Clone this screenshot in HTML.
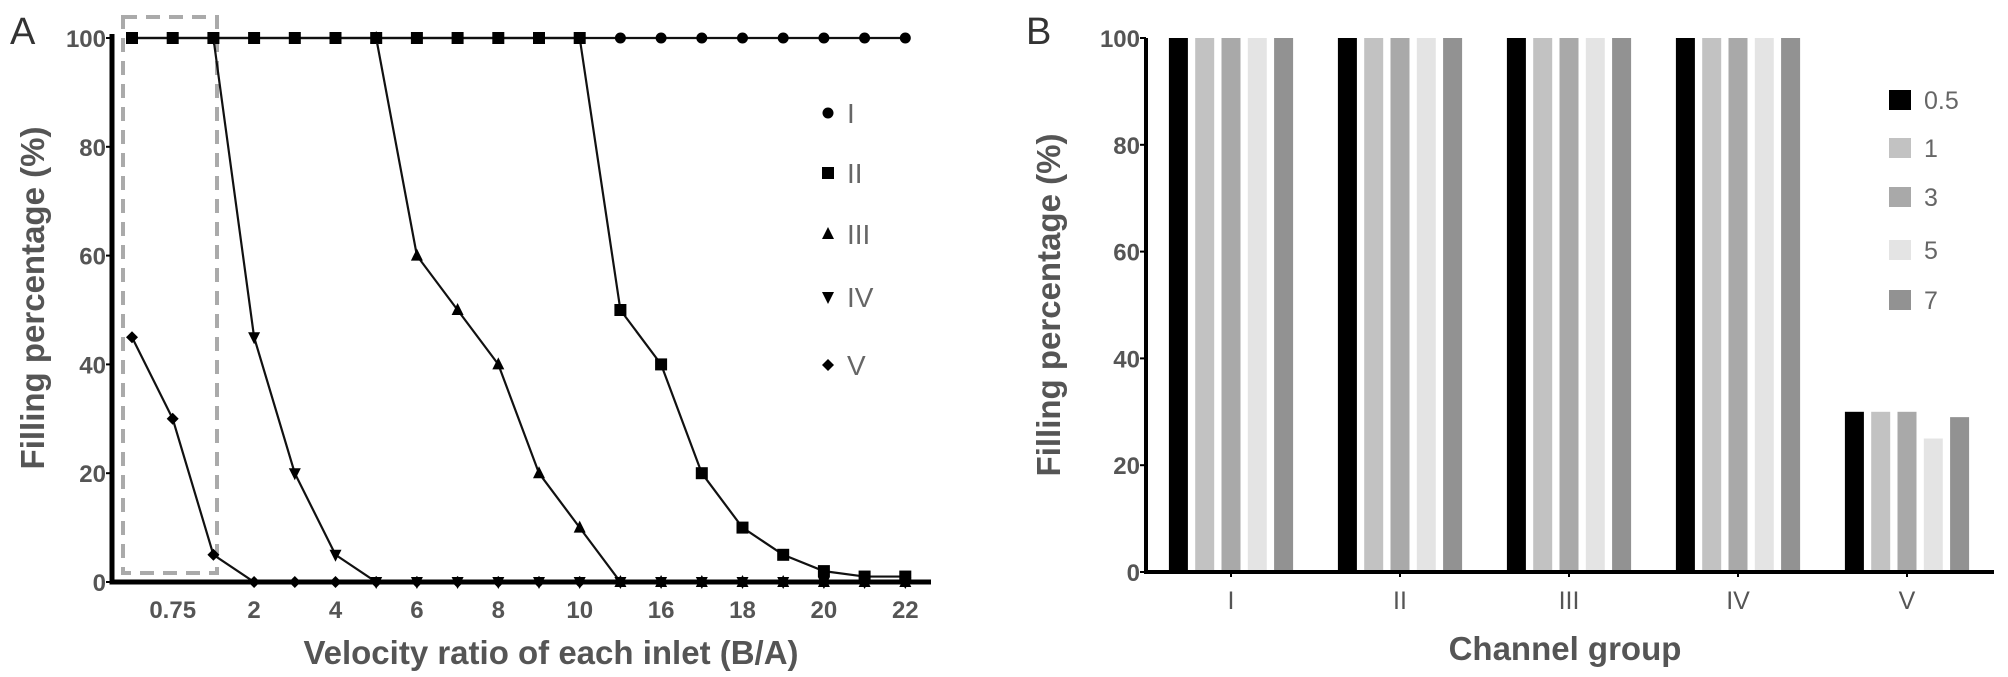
<!DOCTYPE html>
<html><head><meta charset="utf-8"><style>
html,body{margin:0;padding:0;background:#fff;}
svg{display:block;font-family:"Liberation Sans",Arial,sans-serif;}
</style></head><body>
<svg id="fig" width="2008" height="677" viewBox="0 0 2008 677">
<g id="chartA"></g>
<g id="chartB"></g>
</svg>
<script>
// ---- Chart A data ----
const xLabelsA = ["", "0.75", "", "2", "", "4", "", "6", "", "8", "", "10", "", "16", "", "18", "", "20", "", "22"];
const seriesNamesA = ["I", "II", "III", "IV", "V"];
const seriesI   = [100,100,100,100,100,100,100,100,100,100,100,100,100,100,100,100,100,100,100,100];
const seriesII  = [100,100,100,100,100,100,100,100,100,100,100,100,50,40,20,10,5,2,1,1];
const seriesIII = [100,100,100,100,100,100,100,60,50,40,20,10,0,0,0,0,0,0,0,0];
const seriesIV  = [100,100,100,45,20,5,0,0,0,0,0,0,0,0,0,0,0,0,0,0];
const seriesV   = [45,30,5,0,0,0,0,0,0,0,0,0,0,0,0,0,0,0,0,0];
const yTicksA = [0, 20, 40, 60, 80, 100];
const startIII = 6, startIV = 2;

// ---- Chart B data ----
const groupsB = ["I", "II", "III", "IV", "V"];
const legendB = ["0.5", "1", "3", "5", "7"];
const vals05 = [100,100,100,100,30];
const vals1  = [100,100,100,100,30];
const vals3  = [100,100,100,100,30];
const vals5  = [100,100,100,100,25];
const vals7  = [100,100,100,100,29];
const yTicksB = [0, 20, 40, 60, 80, 100];

const NS = "http://www.w3.org/2000/svg";
function mk(parent, tag, attrs, text) {
  const e = document.createElementNS(NS, tag);
  for (const k in attrs) e.setAttribute(k, attrs[k]);
  if (text !== undefined) e.textContent = text;
  parent.appendChild(e);
  return e;
}

// ===== Chart A =====
const gA = document.getElementById("chartA");
const axL = 112, x0A = 132, stepA = 40.7, yTopA = 38, yBotA = 582, axRA = 931;
const xA = i => x0A + i * stepA;
const yA = v => yBotA - (v / 100) * (yBotA - yTopA);

let t = mk(gA, "text", {x: 10, y: 44, "font-size": 38, fill: "#333"}, "A");



let r = mk(gA, "rect", {x: 123, y: 17, width: 94, height: 556, fill: "none", stroke: "#aaa", "stroke-width": 4, "stroke-dasharray": "14,9"});



function marker(g, type, x, y, name) {
  let e;
  if (type === "circle") e = mk(g, "circle", {cx: x, cy: y, r: 5.5, fill: "#000"});
  else if (type === "square") e = mk(g, "rect", {x: x - 6, y: y - 6, width: 12, height: 12, fill: "#000"});
  else if (type === "up") e = mk(g, "polygon", {points: `${x},${y-7} ${x+6},${y+5} ${x-6},${y+5}`, fill: "#000"});
  else if (type === "down") e = mk(g, "polygon", {points: `${x-6},${y-5} ${x+6},${y-5} ${x},${y+7}`, fill: "#000"});
  else e = mk(g, "polygon", {points: `${x},${y-6} ${x+6},${y} ${x},${y+6} ${x-6},${y}`, fill: "#000"});
  
  
}

const seriesA = [
  {vals: seriesI, type: "circle", start: 0},
  {vals: seriesII, type: "square", start: 0},
  {vals: seriesIII, type: "up", start: startIII},
  {vals: seriesIV, type: "down", start: startIV},
  {vals: seriesV, type: "diamond", start: 0}
];
seriesA.forEach((s, si) => {
  const g = mk(gA, "g", {});
  
  
  let d = "";
  for (let i = s.start; i < s.vals.length; i++) d += (i === s.start ? "M" : "L") + xA(i) + "," + yA(s.vals[i]);
  const p = mk(g, "path", {d: d, fill: "none", stroke: "#111", "stroke-width": 2.2});
  
  
  for (let i = s.start; i < s.vals.length; i++) marker(g, s.type, xA(i), yA(s.vals[i]), 'point-' + seriesNamesA[si].toLowerCase());
});

let ax = mk(gA, "path", {d: `M${axL},${yTopA - 4} V${yBotA} H${axRA}`, fill: "none", stroke: "#000", "stroke-width": 5});


yTicksA.forEach(v => {
  const tk = mk(gA, "line", {x1: axL - 6, x2: axL, y1: yA(v), y2: yA(v), stroke: "#000", "stroke-width": 2});
  
  
  const tl = mk(gA, "text", {x: axL - 6, y: yA(v) + 9, "text-anchor": "end", "font-size": 24, "font-weight": "bold", fill: "#555"}, String(v));
  
  
});
xLabelsA.forEach((lab, i) => {
  if (!lab) return;
  const tl = mk(gA, "text", {x: xA(i), y: 618, "text-anchor": "middle", "font-size": 24, "font-weight": "bold", fill: "#555"}, lab);
  
  
});
t = mk(gA, "text", {x: 551, y: 664, "text-anchor": "middle", "font-size": 33, "font-weight": "bold", fill: "#555", "xml:space": "preserve"}, "Velocity ratio of each inlet  (B/A)");


t = mk(gA, "text", {x: 0, y: 0, "text-anchor": "middle", "font-size": 33, "font-weight": "bold", fill: "#555", transform: "translate(44,298) rotate(-90)"}, "Filling percentage (%)");



const legTypes = ["circle", "square", "up", "down", "diamond"];
const legY = [113, 173, 234, 297, 365];
seriesNamesA.forEach((n, i) => {
  const g = mk(gA, "g", {});
  
  
  marker(g, legTypes[i], 828, legY[i], 'legend-marker');
  const tl = mk(g, "text", {x: 847, y: legY[i] + 10, "font-size": 28, fill: "#666"}, n);
  
  
});

// ===== Chart B =====
const gB = document.getElementById("chartB");
const axLB = 1146, yTopB = 38, yBotB = 572, axRB = 1994;
const gc0 = 1231, gStep = 169, barStep = 26.3, barW = 19;
const yB = v => yBotB - (v / 100) * (yBotB - yTopB);
const colorsB = ["#000000", "#c2c2c2", "#a9a9a9", "#e4e4e4", "#929292"];
const seriesB = [vals05, vals1, vals3, vals5, vals7];

t = mk(gB, "text", {x: 1026, y: 44, "font-size": 38, fill: "#333"}, "B");



groupsB.forEach((gname, gi) => {
  const cx = gc0 + gi * gStep;
  seriesB.forEach((vals, si) => {
    const bx = cx + (si - 2) * barStep - barW / 2;
    const b = mk(gB, "rect", {x: bx, y: yB(vals[gi]), width: barW, height: yBotB - yB(vals[gi]), fill: colorsB[si]});
    
    
  });
  const tk = mk(gB, "line", {x1: cx, x2: cx, y1: yBotB, y2: yBotB + 5, stroke: "#000", "stroke-width": 2});
  
  
  const tl = mk(gB, "text", {x: cx, y: 609, "text-anchor": "middle", "font-size": 25, fill: "#555"}, gname);
  
  
});
ax = mk(gB, "path", {d: `M${axLB},${yTopB} V${yBotB} H${axRB}`, fill: "none", stroke: "#000", "stroke-width": 4});


yTicksB.forEach(v => {
  const tk = mk(gB, "line", {x1: axLB - 6, x2: axLB, y1: yB(v), y2: yB(v), stroke: "#000", "stroke-width": 2});
  
  
  const tl = mk(gB, "text", {x: axLB - 6, y: yB(v) + 9, "text-anchor": "end", "font-size": 24, "font-weight": "bold", fill: "#555"}, String(v));
  
  
});
t = mk(gB, "text", {x: 1565, y: 660, "text-anchor": "middle", "font-size": 33, "font-weight": "bold", fill: "#555"}, "Channel group");


t = mk(gB, "text", {x: 0, y: 0, "text-anchor": "middle", "font-size": 33, "font-weight": "bold", fill: "#555", transform: "translate(1060,305) rotate(-90)"}, "Filling percentage (%)");



const legYB = [100, 148, 197, 250, 300];
legendB.forEach((n, i) => {
  const g = mk(gB, "g", {});
  
  
  const s = mk(g, "rect", {x: 1889, y: legYB[i] - 10, width: 22, height: 20, fill: colorsB[i]});
  
  
  const tl = mk(g, "text", {x: 1924, y: legYB[i] + 9, "font-size": 25, fill: "#666"}, n);
  
  
});
</script>
</body></html>
